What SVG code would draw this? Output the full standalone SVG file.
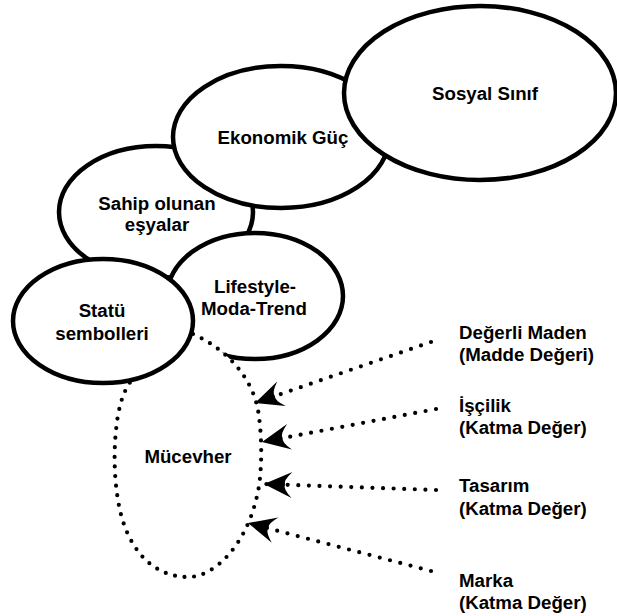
<svg xmlns="http://www.w3.org/2000/svg" width="617" height="616" viewBox="0 0 617 616">
  <style>
    .node { fill: #ffffff; stroke: #000000; stroke-width: 4.5; }
    .dotted { fill: #ffffff; stroke: #000000; stroke-width: 4.2; stroke-linecap: round; stroke-dasharray: 0 9.6; }
    .link { fill: none; stroke: #000000; stroke-width: 4.2; stroke-linecap: round; stroke-dasharray: 0 10.6; }
    text { font-family: "Liberation Sans", Arial, sans-serif; font-weight: bold; font-size: 18.7px; fill: #000000; }
    .c { text-anchor: middle; }
  </style>
  <defs>
    <marker id="head" viewBox="-30 -15 32 30" refX="0" refY="0" markerWidth="32" markerHeight="30" markerUnits="userSpaceOnUse" orient="auto" overflow="visible">
      <path d="M0,0 L-28,-13 Q-19,-4 -21,0 Q-19,4 -28,13 Z" fill="#000000"/>
    </marker>
  </defs>

  <rect width="617" height="616" fill="#ffffff"/>

  <g id="sahip">
    <ellipse class="node" cx="156" cy="212" rx="97" ry="66"/>
    <text class="c" x="157" y="210">Sahip olunan</text>
    <text class="c" x="157" y="231">eşyalar</text>
  </g>

  <g id="ekonomik">
    <ellipse class="node" cx="281" cy="137" rx="108" ry="71"/>
    <text class="c" x="283" y="144">Ekonomik Güç</text>
  </g>

  <g id="sosyal">
    <ellipse class="node" cx="480" cy="93" rx="136" ry="87"/>
    <text class="c" x="485" y="100">Sosyal Sınıf</text>
  </g>

  <g id="lifestyle">
    <ellipse class="node" cx="255" cy="296" rx="88" ry="63"/>
    <text class="c" x="255" y="293">Lifestyle-</text>
    <text class="c" x="254" y="315">Moda-Trend</text>
  </g>

  <!-- jewellery: white-filled dotted outline over the lifestyle circle, under the status circle -->
  <g id="mucevher">
    <path class="dotted" d="M193,334 C228,350 252,378 258,410 C263,440 262,480 256,500 C245,545 215,577 188,577 C150,577 125,545 118,500 C113,470 114,440 118,415 C121,400 124,392 128,386 C140,362 170,338 193,334 Z"/>
    <text class="c" x="188" y="463">Mücevher</text>
  </g>

  <g id="statu">
    <ellipse class="node" cx="103" cy="321" rx="90" ry="62"/>
    <text class="c" x="102" y="317">Statü</text>
    <text class="c" x="102" y="340">sembolleri</text>
  </g>

  <!-- value sources pointing into the jewellery outline -->
  <g id="connectors">
    <path class="link" d="M431,342 L255,403" marker-end="url(#head)"/>
    <path class="link" d="M436,409 L262,442" marker-end="url(#head)"/>
    <path class="link" d="M436,490 L264,484" marker-end="url(#head)"/>
    <path class="link" d="M431,571 L248,523" marker-end="url(#head)"/>
  </g>

  <g id="deger-labels">
    <g id="degerli-maden">
      <text x="459" y="339">Değerli Maden</text>
      <text x="459" y="361">(Madde Değeri)</text>
    </g>
    <g id="iscilik">
      <text x="459" y="412">İşçilik</text>
      <text x="459" y="434">(Katma Değer)</text>
    </g>
    <g id="tasarim">
      <text x="459" y="492">Tasarım</text>
      <text x="459" y="515">(Katma Değer)</text>
    </g>
    <g id="marka">
      <text x="459" y="587">Marka</text>
      <text x="459" y="609">(Katma Değer)</text>
    </g>
  </g>
</svg>
